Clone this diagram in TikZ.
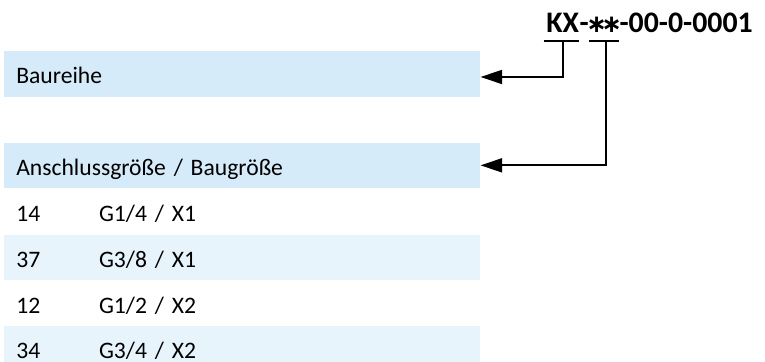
\documentclass[tikz,border=0pt]{standalone}
\usepackage{fontspec}
\setmainfont{Carlito}
\newfontfamily\symfont{DejaVu Sans}
\usetikzlibrary{arrows.meta, positioning}
\definecolor{headblue}{RGB}{214,235,249}
\definecolor{rowblue}{RGB}{231,244,252}

\newcommand{\entry}[2]{\makebox[2.07cm][l]{#1}#2}
\newcommand{\starpair}{{\symfont\bfseries\fontsize{17.5}{20}\selectfont\makebox[10.6pt]{∗}\makebox[10.6pt]{∗}}}

\begin{document}
\begin{tikzpicture}[
    bar/.style={anchor=north west, minimum width=11.9cm, minimum height=1.135cm,
        inner xsep=0.3cm, text width=11.3cm, align=left,
        text height=0.49cm, text depth=0cm, font=\fontsize{16.8}{20}\selectfont},
    codepart/.style={anchor=base west, inner sep=0pt, font=\fontsize{21.2}{25}\selectfont\bfseries},
    line/.style={line width=1.4pt},
    link/.style={line width=1.4pt, -{Triangle[length=0.54cm, width=0.35cm]}}
]
    \useasboundingbox (0,0) rectangle (19.125,-9.025);

    % Code
    \node[codepart] (kx) at (13.65,-0.8175) {KX};
    \node[codepart] (dashA) at (kx.base east) {-};
    \node[codepart] (stars) at (dashA.base east) {\starpair};
    \node[codepart] (code) at (stars.base east) {-00-0-0001};

    % Table
    \node[bar, fill=headblue] (baureihe) at (0.1,-1.275) {Baureihe};
    \node[bar, fill=headblue, below=1.135cm of baureihe] (size) {Anschlussgröße / Baugröße};
    \node[bar, below=0pt of size] (row14) {\entry{14}{G1/4 / X1}};
    \node[bar, fill=rowblue, below=0pt of row14] (row37) {\entry{37}{G3/8 / X1}};
    \node[bar, below=0pt of row37] (row12) {\entry{12}{G1/2 / X2}};
    \node[bar, fill=rowblue, below=0pt of row12] (row34) {\entry{34}{G3/4 / X2}};

    % Markers
    \draw[line] ([xshift=-0.06cm, yshift=-0.21cm]kx.base west) -- ([yshift=-0.21cm]kx.base east);
    \draw[line] ([yshift=-0.21cm]stars.base west) -- ([yshift=-0.21cm]stars.base east);

    % Arrows
    \draw[link] ([yshift=-0.21cm]kx.base) |- ([yshift=-0.075cm]baureihe.east);
    \draw[link] ([xshift=0.05cm, yshift=-0.21cm]stars.base) |- (size.east);

\end{tikzpicture}
\end{document}
